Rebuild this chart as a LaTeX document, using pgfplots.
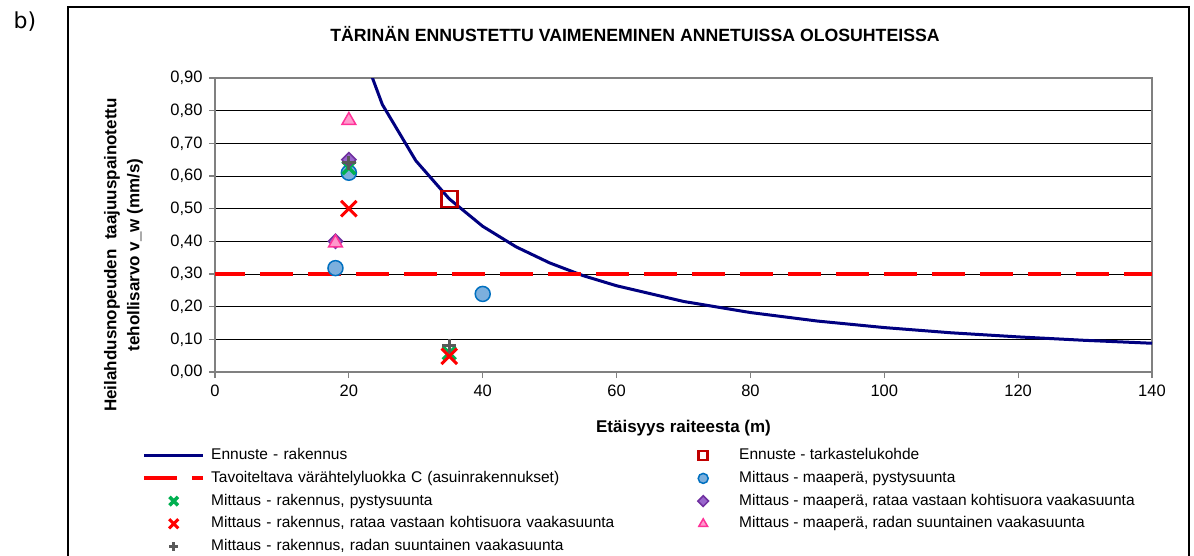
\documentclass[border=0pt]{standalone}
\usepackage{pgfplots}
\pgfplotsset{compat=1.18}
\usepackage{fontspec}
\setmainfont{Liberation Sans}
\newfontfamily\dejavu{DejaVu Sans}
\definecolor{navy}{RGB}{0,0,128}
\definecolor{sqred}{RGB}{192,0,0}
\definecolor{cblue}{RGB}{0,112,192}
\definecolor{cfill}{RGB}{124,175,221}
\definecolor{dpurple}{RGB}{112,48,160}
\definecolor{dfill}{RGB}{153,102,204}
\definecolor{tpink}{RGB}{255,51,153}
\definecolor{tfill}{RGB}{255,153,204}
\definecolor{xgreen}{RGB}{0,176,80}
\definecolor{pgray}{RGB}{89,89,89}
\definecolor{axgray}{RGB}{128,128,128}
\pgfplotsset{
  legline/.style={legend image code/.code={\draw[##1] (0pt,0pt) -- (59pt,0pt);}},
  legdash/.style={legend image code/.code={\draw[##1,dash phase=0pt] (0pt,0pt) -- (59pt,0pt);}},
  legmarkA/.style={legend image code/.code={\path[draw=none,fill=none] (0pt,0pt) -- (59pt,0pt); \draw[##1,mark size=#1] plot coordinates {(29.5pt,0pt)};}},
  legmarkB/.style={legend image code/.code={\path[draw=none,fill=none] (0pt,0pt) -- (40pt,0pt); \draw[##1,mark size=#1] plot coordinates {(10pt,0pt)};}},
}
\begin{document}
\begin{tikzpicture}[x=1pt,y=1pt]
\useasboundingbox (0,0) rectangle (1194,555);
\fill[white] (0,0) rectangle (1194,555);
\draw[black,line width=1.2pt] (68,-20) rectangle (1189,548);
\node[font=\dejavu\fontsize{22}{26}\selectfont] at (25,533) {b)};
\node[font=\bfseries\fontsize{17.7}{20}\selectfont] at (635,521) {TÄRINÄN ENNUSTETTU VAIMENEMINEN ANNETUISSA OLOSUHTEISSA};
\node[rotate=90, align=center, font=\bfseries\fontsize{17}{23}\selectfont] at (123.5,300) {Heilahdusnopeuden\ \ taajuuspainotettu\\tehollisarvo v\_w (mm/s)};
\node[font=\bfseries\fontsize{17}{20}\selectfont] at (683.5,127) {Etäisyys raiteesta (m)};
\begin{axis}[
  at={(215pt,183pt)}, anchor=south west,
  width=937pt, height=294pt, scale only axis,
  xmin=0, xmax=140, ymin=0, ymax=0.9,
  xtick={0,20,40,60,80,100,120,140},
  ytick={0,0.1,0.2,0.3,0.4,0.5,0.6,0.7,0.8,0.9},
  ymajorgrids, major grid style={black, line width=0.8pt},
  axis line style={draw=axgray, line width=1.5pt},
  tick style={draw=axgray, line width=1.2pt},
  major tick length=6pt, tick align=outside,
  xtick pos=bottom, ytick pos=left,
  /pgf/number format/assume math mode=true,
  yticklabel style={font=\fontsize{16.5}{18}\selectfont, xshift=-3pt, /pgf/number format/.cd, fixed, fixed zerofill, precision=2, use comma},
  xticklabel style={font=\fontsize{16.5}{18}\selectfont, yshift=-3pt},
  legend columns=2,
  legend cell align=left,
  legend style={at={(axis description cs:-0.0779,-0.2585)}, anchor=north west, draw=none, fill=none, inner sep=0pt,
    font=\fontsize{15.5}{18}\selectfont, row sep=7.7pt,
    nodes={inner sep=0pt, text height=11.5pt, text depth=3.5pt},
    /tikz/every odd column/.style={column sep=6pt},
    /tikz/column 2/.style={text width=482pt}},
]
\addplot[navy, line width=3pt, mark=none, legline]
  coordinates {(20,1.094) (25,0.819) (30,0.647) (35,0.530) (40,0.446) (45,0.383) (50,0.334) (55,0.295) (60,0.264) (70,0.216) (80,0.182) (90,0.156) (100,0.136) (110,0.120) (120,0.1075) (130,0.0969) (140,0.088)};
\addlegendentry{Ennuste - rakennus}
\addplot[only marks, color=sqred, mark=square, mark size=8pt, mark options={solid, draw=sqred, line width=2.5pt}, legmarkB=4.5pt]
  coordinates {(35,0.53)};
\addlegendentry{Ennuste - tarkastelukohde}
\addplot[red, line width=4pt, dash pattern=on 33pt off 15pt, dash phase=3pt, mark=none, legdash]
  coordinates {(0,0.3) (140,0.3)};
\addlegendentry{Tavoiteltava värähtelyluokka C (asuinrakennukset)}
\addplot[only marks, color=cblue, mark=*, mark size=7.5pt, mark options={solid, draw=cblue, fill=cfill, line width=1.5pt}, legmarkB=5pt]
  coordinates {(18,0.318) (20,0.61) (40,0.239)};
\addlegendentry{Mittaus - maaperä, pystysuunta}
\addplot[only marks, color=xgreen, mark=x, mark size=9pt, mark options={solid, draw=xgreen, line width=3.5pt}, legmarkA=6pt]
  coordinates {(20,0.625) (35,0.058)};
\addlegendentry{Mittaus - rakennus, pystysuunta}
\addplot[only marks, color=dpurple, mark=square*, mark size=5pt, mark options={solid, rotate=45, draw=dpurple, fill=dfill, line width=1.5pt}, legmarkB=3.8pt]
  coordinates {(18,0.40) (20,0.65)};
\addlegendentry{Mittaus - maaperä, rataa vastaan kohtisuora vaakasuunta}
\addplot[only marks, color=red, mark=x, mark size=11pt, mark options={solid, draw=red, line width=3pt}, legmarkA=6.5pt]
  coordinates {(20,0.50) (35,0.048)};
\addlegendentry{Mittaus - rakennus, rataa vastaan kohtisuora vaakasuunta}
\addplot[only marks, color=tpink, mark=triangle*, mark size=8pt, mark options={solid, draw=tpink, fill=tfill, line width=1.5pt}, legmarkB=5pt]
  coordinates {(18,0.395) (20,0.77)};
\addlegendentry{Mittaus - maaperä, radan suuntainen vaakasuunta}
\addplot[only marks, color=pgray, mark=+, mark size=7pt, mark options={solid, draw=pgray, line width=3pt}, legmarkA=4.5pt]
  coordinates {(20,0.64) (35,0.08)};
\addlegendentry{Mittaus - rakennus, radan suuntainen vaakasuunta}
\end{axis}
\end{tikzpicture}
\end{document}
